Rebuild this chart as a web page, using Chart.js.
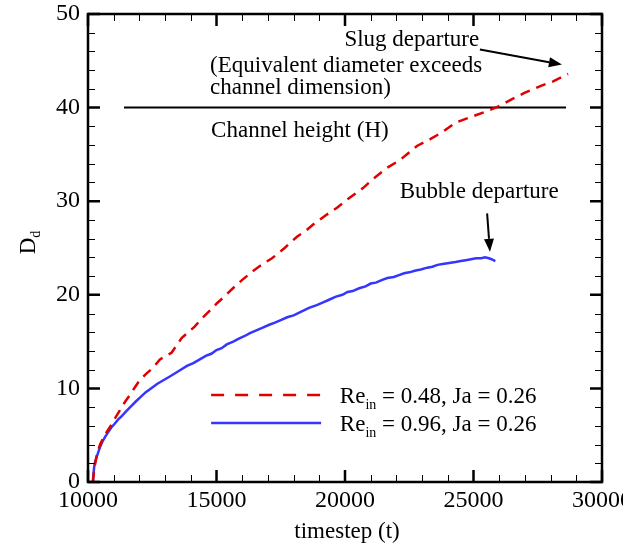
<!DOCTYPE html>
<html>
<head>
<meta charset="utf-8">
<script src="https://cdn.jsdelivr.net/npm/chart.js@4/dist/chart.umd.min.js"></script>
<style>
  html, body { margin: 0; padding: 0; background: #fff; }
  #chart { display: block; }
</style>
</head>
<body>
<canvas id="chart" width="639" height="548"></canvas>
<script>
// Re_in = 0.48, Ja = 0.26 (timestep, equivalent diameter)
const slugT = [10190, 10250, 10350, 10470, 10650, 10860, 11050, 11250, 11450, 11630,
  11820, 12020, 12280, 12530, 12800, 13050, 13250, 13450, 13650, 13900,
  14150, 14400, 14700, 15020, 15300, 15640, 16000, 16450, 16800, 17160,
  17650, 18130, 18500, 18760, 19200, 19690, 20100, 20700, 21100, 21600,
  22140, 22800, 23300, 23800, 24300, 24800, 25400, 25950, 26500, 27000,
  27600, 28100, 28680];
const slugD = [0, 1.5, 3.0, 4.0, 5.0, 5.9, 6.8, 7.7, 8.6, 9.3,
  10.1, 10.9, 11.6, 12.2, 13.1, 13.5, 13.8, 14.6, 15.4, 16.0,
  16.6, 17.4, 18.2, 19.1, 19.8, 20.7, 21.6, 22.6, 23.3, 23.9,
  25.0, 26.2, 26.9, 27.5, 28.4, 29.3, 30.2, 31.4, 32.4, 33.5,
  34.4, 35.9, 36.6, 37.4, 38.4, 38.9, 39.5, 40.1, 40.9, 41.6,
  42.3, 42.8, 43.6];

// Re_in = 0.96, Ja = 0.26
const bubbleT = [10190, 10210, 10240, 10280, 10330, 10400, 10480, 10560, 10660, 10780,
  10900, 11030, 11180, 11330, 11500, 11680, 11860, 12050, 12250, 12450,
  12700, 12950, 13200, 13500, 13850, 14100, 14350, 14600, 14800, 15000,
  15200, 15400, 15650, 15850, 16100, 16300, 16550, 16800, 17050, 17250,
  17500, 17750, 18000, 18300, 18600, 18900, 19150, 19400, 19650, 19900,
  20100, 20300, 20550, 20800, 21000, 21200, 21450, 21650, 21900, 22100,
  22300, 22500, 22750, 22950, 23200, 23400, 23600, 23800, 24050, 24300,
  24500, 24700, 24900, 25100, 25300, 25450, 25600, 25700, 25850];
const bubbleD = [0, 0.8, 1.6, 2.2, 2.6, 3.2, 3.8, 4.3, 4.8, 5.3,
  5.8, 6.2, 6.7, 7.1, 7.6, 8.1, 8.6, 9.1, 9.6, 10.0,
  10.5, 10.9, 11.3, 11.8, 12.4, 12.7, 13.1, 13.5, 13.7, 14.1,
  14.3, 14.7, 15.0, 15.3, 15.6, 15.9, 16.2, 16.5, 16.8, 17.0,
  17.3, 17.6, 17.8, 18.2, 18.6, 18.9, 19.2, 19.5, 19.8, 20.0,
  20.3, 20.4, 20.7, 20.9, 21.2, 21.3, 21.6, 21.8, 21.9, 22.1,
  22.3, 22.4, 22.6, 22.7, 22.9, 23.0, 23.2, 23.3, 23.4, 23.5,
  23.6, 23.7, 23.8, 23.9, 23.9, 24.0, 23.9, 23.8, 23.6];

// channel height line
const channelT = [11400, 28600];
const channelD = [40, 40];

const xTicks = [10000, 15000, 20000, 25000, 30000];
const yTicks = [0, 10, 20, 30, 40, 50];

const serif = '"Liberation Serif", "DejaVu Serif", serif';
const red = "#e00000";
const blue = "#3535ff";

const toPoints = (xs, ys) => xs.map((x, i) => ({ x: x, y: ys[i] }));

// frame, inward ticks, titles, notes, arrows and the legend
const decorations = {
  id: "decorations",
  afterDatasetsDraw(chart) {
    const ctx = chart.ctx;
    const { left, right, top, bottom } = chart.chartArea;
    const xs = chart.scales.x;
    const ys = chart.scales.y;
    const px = (t) => xs.getPixelForValue(t);
    const py = (d) => ys.getPixelForValue(d);

    ctx.save();
    ctx.strokeStyle = "#000";

    // minor ticks
    ctx.lineWidth = 1;
    ctx.beginPath();
    for (let t = 11000; t < 30000; t += 1000) {
      if (t % 5000 === 0) continue;
      const x = Math.round(px(t)) + 0.5;
      ctx.moveTo(x, bottom); ctx.lineTo(x, bottom - 7);
      ctx.moveTo(x, top); ctx.lineTo(x, top + 7);
    }
    for (let d = 2; d < 50; d += 2) {
      if (d % 10 === 0) continue;
      const y = Math.round(py(d)) + 0.5;
      ctx.moveTo(left, y); ctx.lineTo(left + 7, y);
      ctx.moveTo(right, y); ctx.lineTo(right - 7, y);
    }
    ctx.stroke();

    // major ticks
    ctx.lineWidth = 2.5;
    ctx.beginPath();
    xTicks.forEach((t) => {
      const x = px(t);
      ctx.moveTo(x, bottom); ctx.lineTo(x, bottom - 12);
      ctx.moveTo(x, top); ctx.lineTo(x, top + 12);
    });
    yTicks.forEach((d) => {
      const y = py(d);
      ctx.moveTo(left, y); ctx.lineTo(left + 12, y);
      ctx.moveTo(right, y); ctx.lineTo(right - 12, y);
    });
    ctx.stroke();

    // frame
    ctx.lineWidth = 2.5;
    ctx.strokeRect(left, top, right - left, bottom - top);

    // page edge cuts off the last tick label
    ctx.fillStyle = "#fff";
    ctx.fillRect(623, bottom + 3, chart.width - 623, 40);

    // axis titles
    ctx.fillStyle = "#000";
    ctx.textBaseline = "alphabetic";
    ctx.font = "23px " + serif;
    ctx.textAlign = "center";
    ctx.fillText("timestep (t)", (left + right) / 2 + 2, 538);

    ctx.save();
    ctx.translate(35, 243);
    ctx.rotate(-Math.PI / 2);
    ctx.textAlign = "left";
    ctx.font = "23px " + serif;
    const dw = ctx.measureText("D").width;
    ctx.fillText("D", -dw / 2 - 3, 0);
    ctx.font = "14px " + serif;
    ctx.fillText("d", dw / 2 - 3, 5);
    ctx.restore();

    // notes
    ctx.font = "23px " + serif;
    ctx.textBaseline = "middle";
    ctx.textAlign = "center";
    ctx.fillText("Slug departure", px(22600), py(47.2));
    ctx.fillText("Bubble departure", px(25220), py(31.0));
    ctx.textAlign = "left";
    ctx.fillText("(Equivalent diameter exceeds", px(14750), py(44.4));
    ctx.fillText("channel dimension)", px(14750), py(42.1));
    ctx.fillText("Channel height (H)", px(14790), py(37.5));

    // arrows
    const arrow = (t0, d0, t1, d1) => {
      const x0 = px(t0), y0 = py(d0), x1 = px(t1), y1 = py(d1);
      const a = Math.atan2(y1 - y0, x1 - x0);
      const len = 13, half = 5;
      const bx = x1 - len * Math.cos(a), by = y1 - len * Math.sin(a);
      ctx.lineWidth = 2;
      ctx.beginPath();
      ctx.moveTo(x0, y0);
      ctx.lineTo(bx, by);
      ctx.stroke();
      ctx.beginPath();
      ctx.moveTo(x1, y1);
      ctx.lineTo(bx + half * Math.sin(a), by - half * Math.cos(a));
      ctx.lineTo(bx - half * Math.sin(a), by + half * Math.cos(a));
      ctx.closePath();
      ctx.fill();
    };
    arrow(25250, 46.2, 28440, 44.6);
    arrow(25530, 28.7, 25640, 24.6);

    // legend
    const entries = [
      { ds: chart.data.datasets[0], d: 9.3, re: "0.48", dash: [13, 11] },
      { ds: chart.data.datasets[1], d: 6.3, re: "0.96", dash: [] }
    ];
    entries.forEach((e) => {
      const y = py(e.d);
      ctx.strokeStyle = e.ds.borderColor;
      ctx.lineWidth = 2.5;
      ctx.setLineDash(e.dash);
      ctx.beginPath();
      ctx.moveTo(px(14790), y);
      ctx.lineTo(px(19070), y);
      ctx.stroke();
      ctx.setLineDash([]);

      ctx.fillStyle = "#000";
      ctx.textAlign = "left";
      ctx.textBaseline = "alphabetic";
      let x = px(19800);
      const base = y + 8;
      ctx.font = "23px " + serif;
      ctx.fillText("Re", x, base);
      x += ctx.measureText("Re").width;
      ctx.font = "14px " + serif;
      ctx.fillText("in", x, base + 6);
      x += ctx.measureText("in").width;
      ctx.font = "23px " + serif;
      ctx.fillText(" = " + e.re + ", Ja = 0.26", x, base);
    });

    ctx.restore();
  }
};

const config = {
  type: "scatter",
  data: {
    datasets: [
      {
        label: "Re_in = 0.48, Ja = 0.26",
        data: toPoints(slugT, slugD),
        showLine: true,
        borderColor: red,
        borderWidth: 2.5,
        borderDash: [10, 7],
        pointRadius: 0,
        tension: 0
      },
      {
        label: "Re_in = 0.96, Ja = 0.26",
        data: toPoints(bubbleT, bubbleD),
        showLine: true,
        borderColor: blue,
        borderWidth: 2.5,
        pointRadius: 0,
        tension: 0
      },
      {
        label: "Channel height (H)",
        data: toPoints(channelT, channelD),
        showLine: true,
        borderColor: "#000",
        borderWidth: 2,
        pointRadius: 0
      }
    ]
  },
  options: {
    responsive: false,
    animation: false,
    devicePixelRatio: 1,
    layout: { padding: { left: 0, top: 14, right: 37, bottom: 0 } },
    plugins: {
      legend: { display: false },
      tooltip: { enabled: false }
    },
    scales: {
      x: {
        type: "linear",
        min: 10000,
        max: 30000,
        afterBuildTicks: (scale) => { scale.ticks = xTicks.map((v) => ({ value: v })); },
        afterFit: (scale) => {
          scale.height = 66;
          scale.paddingLeft = 0;
          scale.paddingRight = 0;
        },
        grid: { display: false, drawTicks: false },
        border: { display: false },
        ticks: {
          padding: 4,
          color: "#000",
          maxRotation: 0,
          autoSkip: false,
          font: { family: serif, size: 24 },
          callback: (v) => String(v)
        }
      },
      y: {
        type: "linear",
        min: 0,
        max: 50,
        afterBuildTicks: (scale) => { scale.ticks = yTicks.map((v) => ({ value: v })); },
        afterFit: (scale) => {
          scale.width = 88;
          scale.paddingTop = 0;
          scale.paddingBottom = 0;
        },
        grid: { display: false, drawTicks: false },
        border: { display: false },
        ticks: {
          padding: 8,
          color: "#000",
          font: { family: serif, size: 24 },
          callback: (v) => String(v)
        }
      }
    }
  },
  plugins: [decorations]
};

new Chart(document.getElementById("chart"), config);
</script>
</body>
</html>
